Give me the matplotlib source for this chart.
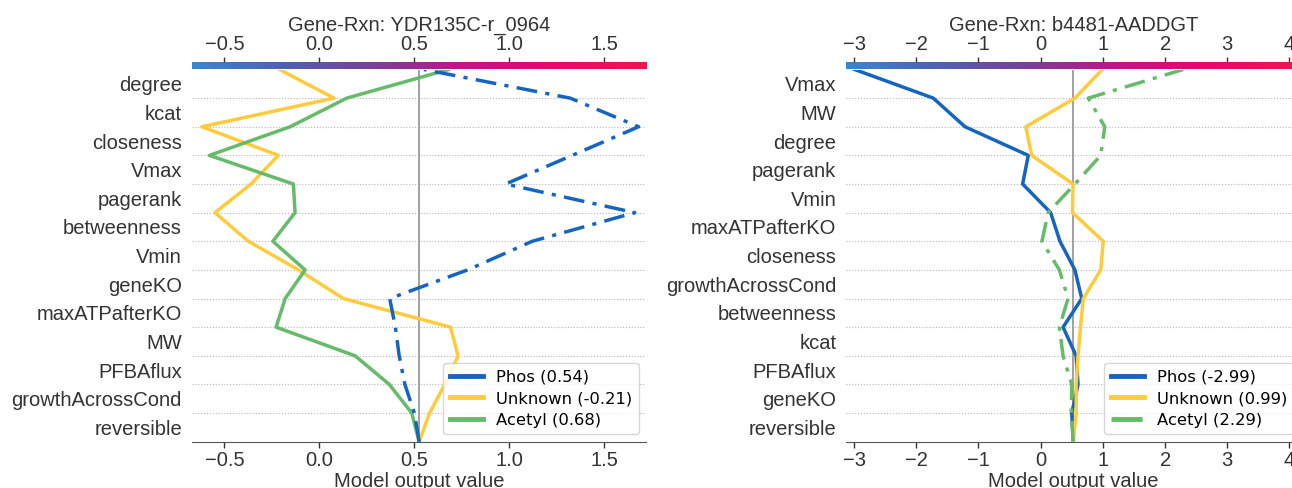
import numpy as np
import matplotlib
matplotlib.use('Agg')
import matplotlib.pyplot as plt
from matplotlib.colors import LinearSegmentedColormap
from matplotlib.lines import Line2D

plt.rcParams['font.family'] = ['Liberation Sans', 'DejaVu Sans']

# expected (base) value shared by both panels
base_value = 0.525

# ---- left panel: features listed bottom -> top, paths are cumulative output
left_title = 'Gene-Rxn: YDR135C-r_0964'
left_features = ['reversible', 'growthAcrossCond', 'PFBAflux', 'MW', 'maxATPafterKO',
                 'geneKO', 'Vmin', 'betweenness', 'pagerank', 'Vmax', 'closeness',
                 'kcat', 'degree']
left_phos = [0.525, 0.50, 0.45, 0.42, 0.40, 0.37, 0.78, 1.12, 1.66, 0.98, 1.33, 1.68, 1.32, 0.55]
left_unknown = [0.525, 0.58, 0.66, 0.73, 0.69, 0.126, -0.11, -0.374, -0.55, -0.36, -0.216,
                -0.619, 0.077, -0.21]
left_acetyl = [0.525, 0.486, 0.368, 0.188, -0.228, -0.18, -0.075, -0.245, -0.128, -0.137,
               -0.579, -0.154, 0.144, 0.68]
left_legend = ['Phos (0.54)', 'Unknown (-0.21)', 'Acetyl (0.68)']
left_xticks = [-0.5, 0.0, 0.5, 1.0, 1.5]

# ---- right panel
right_title = 'Gene-Rxn: b4481-AADDGT'
right_features = ['reversible', 'geneKO', 'PFBAflux', 'kcat', 'betweenness',
                  'growthAcrossCond', 'closeness', 'maxATPafterKO', 'Vmin', 'pagerank',
                  'degree', 'MW', 'Vmax']
right_phos = [0.524, 0.50, 0.60, 0.57, 0.36, 0.66, 0.55, 0.31, 0.16, -0.29, -0.20, -1.217,
              -1.727, -2.99]
right_unknown = [0.524, 0.57, 0.57, 0.60, 0.64, 0.685, 0.965, 1.006, 0.51, 0.52, -0.145,
                 -0.24, 0.55, 0.99]
right_acetyl = [0.524, 0.49, 0.50, 0.36, 0.30, 0.44, 0.30, 0.02, 0.12, 0.55, 0.965, 1.03,
                0.765, 2.29]
right_legend = ['Phos (-2.99)', 'Unknown (0.99)', 'Acetyl (2.29)']
right_xticks = [-3, -2, -1, 0, 1, 2, 3, 4]

line_colors = ['#1565C0', '#FFCB3D', '#66BB6A']
text_color = '#333333'

shap_cmap = LinearSegmentedColormap.from_list(
    'shap_like', ['#3a86d0', '#4d62b2', '#7b3f98', '#c0148a', '#e8086c', '#f0164f'])

W, H = 1292, 488
fig = plt.figure(figsize=(W / 100, H / 100), dpi=100)

AX_BOTTOM, AX_TOP = 441.7, 69.5


def panel(x0, x1, xlim, xticks, title, features, paths, highlight, labels, legend_dashed):
    ax = fig.add_axes([x0 / W, (H - AX_BOTTOM) / H, (x1 - x0) / W, (AX_BOTTOM - AX_TOP) / H])
    n = len(features)
    y = np.arange(n + 1)
    for k in range(1, n):
        ax.axhline(k, color='#b5b5b5', lw=0.8, ls=(0, (1, 1.6)), zorder=0)
    ax.axvline(base_value, color='#999999', lw=1.3, zorder=1)

    order = [i for i in range(3) if i != highlight] + [highlight]
    for i in order:
        style = '-.' if i == highlight else '-'
        ln, = ax.plot(paths[i], y, color=line_colors[i], lw=2.5, ls=style, zorder=3 + (i == highlight))
        if i == highlight:
            ln.set_dashes((6, 2.4, 1.2, 2.4))

    ax.set_xlim(xlim)
    ax.set_ylim(0, n)
    ax.set_yticks(np.arange(n) + 0.5)
    ax.set_yticklabels(features, fontsize=14.5, color=text_color)
    ax.tick_params(axis='y', length=0, pad=7)
    ax.set_xticks(xticks)
    ax.tick_params(axis='x', labelsize=14.5, colors=text_color, length=4, width=1, pad=3)
    ax.set_xlabel('Model output value', fontsize=14.5, color=text_color, labelpad=1)
    for s in ['left', 'right', 'top']:
        ax.spines[s].set_visible(False)
    ax.spines['bottom'].set_color('#555555')

    handles = []
    for i in range(3):
        ls = '-.' if (legend_dashed and i == highlight) else '-'
        handles.append(Line2D([], [], color=line_colors[i], lw=3.5, ls=ls))
    ax.legend(handles, labels, loc='lower right', prop={'family': 'DejaVu Sans', 'size': 11.8},
              borderaxespad=0.45, labelspacing=0.4)

    # colour bar on top with the top tick labels and title
    cax = fig.add_axes([x0 / W, (H - AX_TOP) / H, (x1 - x0) / W, 7.5 / H])
    grad = np.linspace(0, 1, 512)[None, :]
    cax.imshow(grad, aspect='auto', cmap=shap_cmap, extent=[xlim[0], xlim[1], 0, 1])
    cax.set_xlim(xlim)
    cax.set_ylim(0, 1)
    cax.set_yticks([])
    cax.xaxis.tick_top()
    cax.set_xticks(xticks)
    cax.tick_params(axis='x', labelsize=14.5, colors=text_color, length=3.5, width=1, pad=2)
    for s in cax.spines.values():
        s.set_visible(False)
    cax.set_title(title, fontsize=14.5, color=text_color, pad=1)
    return ax


panel(191.7, 646.0, (-0.672, 1.719), left_xticks, left_title, left_features,
      [left_phos, left_unknown, left_acetyl], 0, left_legend, False)
panel(846.0, 1301.0, (-3.13, 4.185), right_xticks, right_title, right_features,
      [right_phos, right_unknown, right_acetyl], 2, right_legend, True)

fig.savefig('out.png', dpi=100)
